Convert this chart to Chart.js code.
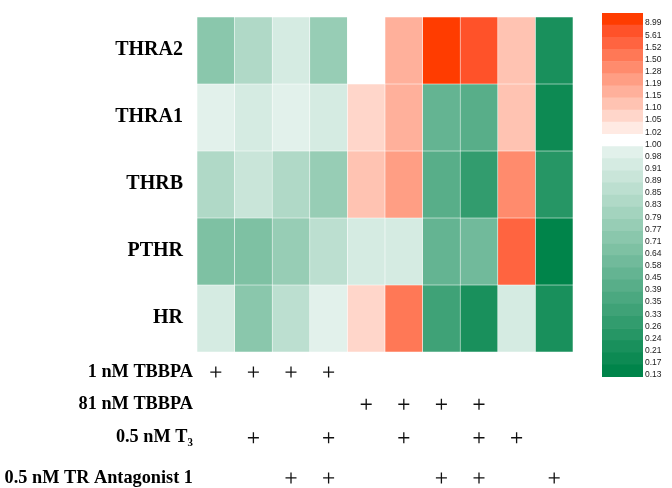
<!DOCTYPE html>
<html>
<head>
<meta charset="utf-8">
<script src="https://cdn.jsdelivr.net/npm/chart.js@4/dist/chart.umd.min.js"></script>
<style>
  html, body { margin: 0; padding: 0; background: #ffffff; }
  #wrap { position: relative; width: 672px; height: 488px; overflow: hidden; }
  #heat { position: absolute; left: 0; top: 0; }
  #treat { position: absolute; left: 0; top: 352px; }
  #bar { position: absolute; left: 598px; top: 0; }
</style>
</head>
<body>
<div id="wrap">
  <canvas id="heat" width="672" height="352"></canvas>
  <canvas id="treat" width="672" height="136"></canvas>
  <canvas id="bar" width="74" height="488"></canvas>
</div>
<script>
// ---------------- data ----------------
const genes = ['THRA2', 'THRA1', 'THRB', 'PTHR', 'HR'];
const conditions = ['1', '2', '3', '4', '5', '6', '7', '8', '9', '10'];

const THRA2 = [0.71, 0.83, 0.91, 0.77, 1.00, 1.15, 8.99, 5.61, 1.10, 0.21];
const THRA1 = [0.98, 0.91, 0.98, 0.91, 1.05, 1.15, 0.45, 0.39, 1.10, 0.17];
const THRB  = [0.83, 0.89, 0.83, 0.77, 1.10, 1.19, 0.39, 0.26, 1.28, 0.24];
const PTHR  = [0.64, 0.64, 0.77, 0.85, 0.91, 0.91, 0.45, 0.58, 1.52, 0.13];
const HR    = [0.91, 0.71, 0.85, 0.98, 1.05, 1.50, 0.33, 0.21, 0.91, 0.21];

const treatmentLabels = ['1 nM TBBPA', '81 nM TBBPA', '0.5 nM T\u2083', '0.5 nM TR Antagonist 1'];
const tbbpa1     = [1, 1, 1, 1, 0, 0, 0, 0, 0, 0];
const tbbpa81    = [0, 0, 0, 0, 1, 1, 1, 1, 0, 0];
const t3         = [0, 1, 0, 1, 0, 1, 0, 1, 1, 0];
const antagonist = [0, 0, 1, 1, 0, 0, 1, 1, 0, 1];

const scaleLabels = ['8.99', '5.61', '1.52', '1.50', '1.28', '1.19', '1.15', '1.10', '1.05', '1.02',
                     '1.00', '0.98', '0.91', '0.89', '0.85', '0.83', '0.79', '0.77', '0.71', '0.64',
                     '0.58', '0.45', '0.39', '0.35', '0.33', '0.26', '0.24', '0.21', '0.17', '0.13'];

// ---------------- styles ----------------
const scaleColors = ['#FF3C00', '#FF5229', '#FF6440', '#FF7856', '#FF8B6D', '#FF9E84', '#FFB09B', '#FFC3B2', '#FFD6CA', '#FFEAE3',
                     '#FFFFFF', '#E2F1EB', '#D5EBE2', '#C9E5D9', '#BCDFD0', '#B0D9C7', '#A3D3BE', '#97CDB5', '#8AC7AC', '#7EC1A3',
                     '#71BA9B', '#64B492', '#58AE89', '#4BA880', '#3FA277', '#329C6E', '#269665', '#19905C', '#0D8A53', '#00844A'];

function colorFor(v) {
  let best = 0, bd = Infinity;
  scaleLabels.forEach((s, i) => { const d = Math.abs(parseFloat(s) - v); if (d < bd) { bd = d; best = i; } });
  return scaleColors[best];
}

const rows = [THRA2, THRA1, THRB, PTHR, HR];
const treatments = [tbbpa1, tbbpa81, t3, antagonist];
// layout: vertical placement (in heat-row units, from the heatmap bottom) of the treatment lines
const treatmentRowPos = [0.30, 0.78, 1.28, 1.88];
const treatMax = 2.03;

const noPad = s => { s.paddingTop = 0; s.paddingBottom = 0; };

// ---------------- heatmap ----------------
const heatSets = rows.map((vals, r) => ({
  label: genes[r],
  data: vals.map(() => [r, r + 1]),
  backgroundColor: vals.map(colorFor),
  borderColor: 'rgba(255,255,255,0.35)',
  borderWidth: 0.6,
  borderSkipped: false,
  barPercentage: 1,
  categoryPercentage: 1,
  grouped: false
}));

new Chart(document.getElementById('heat'), {
  type: 'bar',
  data: { labels: conditions, datasets: heatSets },
  options: {
    responsive: false,
    animation: false,
    layout: { autoPadding: false, padding: { top: 17, right: 99, bottom: 0, left: 0 } },
    plugins: { legend: { display: false }, tooltip: { enabled: false } },
    scales: {
      x: { type: 'category', display: false, offset: true, grid: { display: false } },
      y: {
        type: 'linear', reverse: true, min: 0, max: genes.length, position: 'left',
        grid: { display: false, drawTicks: false }, border: { display: false },
        afterBuildTicks: s => { s.ticks = genes.map((g, i) => ({ value: i + 0.5 })); },
        afterFit: s => { s.width = 197; noPad(s); },
        ticks: {
          autoSkip: false, padding: 14, color: '#000', labelOffset: -1,
          font: { family: 'Liberation Serif', size: 20, weight: 'bold' },
          callback: (v, i) => genes[i]
        }
      }
    }
  }
});

// ---------------- treatment matrix ----------------
const plusPoints = [];
treatments.forEach((arr, t) => arr.forEach((on, c) => { if (on) plusPoints.push({ x: conditions[c], y: treatmentRowPos[t] }); }));

new Chart(document.getElementById('treat'), {
  type: 'scatter',
  data: {
    labels: conditions,
    datasets: [{
      label: 'treatments',
      data: plusPoints,
      pointStyle: 'cross',
      pointRadius: 5.5,
      pointBorderWidth: 1.3,
      borderColor: '#111',
      backgroundColor: '#111',
      showLine: false,
      clip: false
    }]
  },
  options: {
    responsive: false,
    animation: false,
    layout: { autoPadding: false, padding: { top: 0, right: 99, bottom: 0, left: 0 } },
    plugins: { legend: { display: false }, tooltip: { enabled: false } },
    scales: {
      x: { type: 'category', display: false, offset: true, grid: { display: false } },
      y: {
        type: 'linear', reverse: true, min: 0, max: treatMax, position: 'left',
        grid: { display: false, drawTicks: false }, border: { display: false },
        afterBuildTicks: s => { s.ticks = treatmentRowPos.map(p => ({ value: p })); },
        afterFit: s => { s.width = 197; noPad(s); },
        ticks: {
          autoSkip: false, padding: 4, color: '#000',
          font: { family: 'Liberation Serif', size: 18.3, weight: 'bold' },
          callback: (v, i) => treatmentLabels[i]
        }
      }
    }
  }
});

// ---------------- colour scale ----------------
new Chart(document.getElementById('bar'), {
  type: 'bar',
  data: {
    labels: scaleLabels,
    datasets: [{
      data: scaleLabels.map(() => 1),
      backgroundColor: scaleColors,
      borderWidth: 0,
      barPercentage: 1,
      categoryPercentage: 1
    }]
  },
  options: {
    indexAxis: 'y',
    responsive: false,
    animation: false,
    layout: { autoPadding: false, padding: { top: 13, bottom: 111, left: 4, right: 0 } },
    plugins: { legend: { display: false }, tooltip: { enabled: false } },
    scales: {
      x: { type: 'linear', min: 0, max: 1, display: false },
      y: {
        type: 'category', position: 'right', offset: true,
        grid: { display: false, drawTicks: false }, border: { display: false },
        afterFit: s => { s.width = 29; noPad(s); },
        ticks: {
          autoSkip: false, padding: 2, labelOffset: 4, color: '#222',
          font: { family: 'Liberation Sans', size: 8.5 }
        }
      }
    }
  }
});
</script>
</body>
</html>
